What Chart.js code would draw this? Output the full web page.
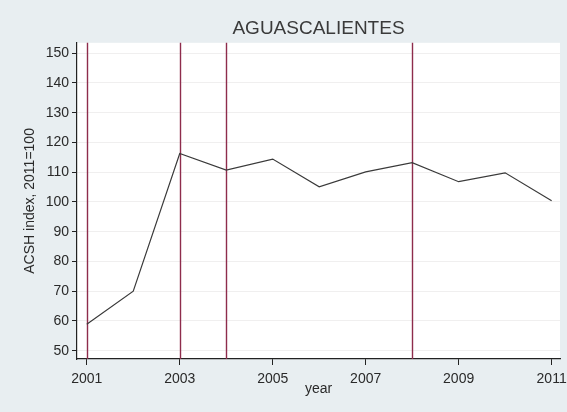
<!DOCTYPE html>
<html>
<head>
<meta charset="utf-8">
<script src="https://cdn.jsdelivr.net/npm/chart.js@4"></script>
<style>
  html, body { margin: 0; padding: 0; background: #e8eef1; }
  #wrap { width: 567px; height: 412px; }
</style>
</head>
<body>
<div id="wrap"><canvas id="chart" width="567" height="412"></canvas></div>
<script>
// ACSH index series (2011 = 100)
const years = [2001, 2002, 2003, 2004, 2005, 2006, 2007, 2008, 2009, 2010, 2011];
const acshIndex = [58.9, 70.0, 116.3, 110.7, 114.4, 105.1, 110.1, 113.2, 106.8, 109.8, 100.4];

// years marked with a vertical reference line
const markerYears = [2001, 2003, 2004, 2008];

const xTicks = [2001, 2003, 2005, 2007, 2009, 2011];
const yTicks = [50, 60, 70, 80, 90, 100, 110, 120, 130, 140, 150];

const fontFamily = '"Liberation Sans", Arial, sans-serif';

// white plot region + vertical markers
const plotArea = {
  id: 'plotArea',
  beforeDraw(chart) {
    const { ctx, chartArea: a } = chart;
    ctx.save();
    ctx.fillStyle = '#e8eef1';
    ctx.fillRect(0, 0, chart.width, chart.height);
    ctx.fillStyle = '#ffffff';
    ctx.fillRect(a.left, a.top, a.right - a.left, a.bottom - a.top);
    ctx.restore();
  },
  beforeDatasetsDraw(chart) {
    const { ctx, chartArea: a, scales } = chart;
    ctx.save();
    ctx.strokeStyle = '#8e2c4c';
    ctx.lineWidth = 1.4;
    markerYears.forEach(yr => {
      const x = Math.round(scales.x.getPixelForValue(yr)) + 0.5;
      ctx.beginPath();
      ctx.moveTo(x, a.top);
      ctx.lineTo(x, a.bottom);
      ctx.stroke();
    });
    ctx.restore();
  }
};

new Chart(document.getElementById('chart'), {
  type: 'line',
  data: {
    datasets: [{
      data: years.map((y, i) => ({ x: y, y: acshIndex[i] })),
      borderColor: '#3a3a3a',
      borderWidth: 1.2,
      pointRadius: 0,
      tension: 0,
      fill: false
    }]
  },
  options: {
    responsive: false,
    animation: false,
    layout: { padding: { left: 0, right: 7, top: 0, bottom: 0 } },
    plugins: {
      legend: { display: false },
      tooltip: { enabled: false },
      title: {
        display: true,
        text: 'AGUASCALIENTES',
        fullSize: false,
        color: '#3a3a3a',
        font: { family: fontFamily, size: 19, weight: 'normal' },
        padding: { top: 17, bottom: 3 }
      }
    },
    scales: {
      x: {
        type: 'linear',
        min: 2000.79,
        max: 2011.18,
        afterBuildTicks: s => { s.ticks = xTicks.map(v => ({ value: v })); },
        afterFit: s => { s.height = 53; s.paddingLeft = 0; s.paddingRight = 0; },
        ticks: {
          color: '#2a2a2a',
          font: { family: fontFamily, size: 14 },
          padding: 6,
          maxRotation: 0,
          callback: v => String(v)
        },
        grid: { drawOnChartArea: false, tickLength: 6, tickColor: '#222', tickWidth: 1 },
        border: { display: true, color: '#222', width: 1.2 },
        title: {
          display: true,
          text: 'year',
          color: '#2a2a2a',
          font: { family: fontFamily, size: 14 },
          padding: { top: 0, bottom: 14 }
        }
      },
      y: {
        min: 47.2,
        max: 153.5,
        afterBuildTicks: s => { s.ticks = yTicks.map(v => ({ value: v })); },
        afterFit: s => { s.width = 77; },
        ticks: {
          color: '#2a2a2a',
          font: { family: fontFamily, size: 14 },
          padding: 3
        },
        grid: { color: '#f0efef', lineWidth: 1, tickLength: 5, tickColor: '#222' },
        border: { display: true, color: '#222', width: 1.2 },
        title: {
          display: true,
          text: 'ACSH index, 2011=100',
          color: '#2a2a2a',
          font: { family: fontFamily, size: 14 },
          padding: { top: 22, bottom: 0 }
        }
      }
    }
  },
  plugins: [plotArea]
});
</script>
</body>
</html>
